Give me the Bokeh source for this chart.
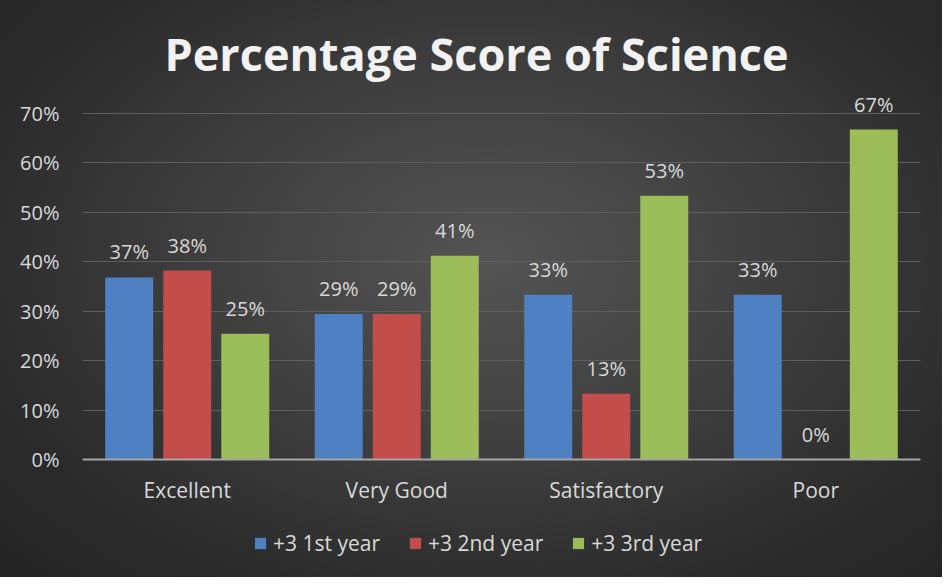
from bokeh.plotting import figure
from bokeh.layouts import column
from bokeh.models import (ColumnDataSource, FactorRange, Range1d, LabelSet, Legend, LegendItem,
                          NumeralTickFormatter, FixedTicker, InlineStyleSheet)
from bokeh.core.properties import value
from bokeh.transform import dodge
from bokeh.embed import file_html
from bokeh.resources import INLINE

categories = ["Excellent", "Very Good", "Satisfactory", "Poor"]
series_names = ["+3 1st year", "+3 2nd year", "+3 3rd year"]
first_year = [0.368, 0.294, 0.333, 0.333]
second_year = [0.382, 0.294, 0.133, 0.0]
third_year = [0.254, 0.412, 0.533, 0.667]
y_ticks = [0.0, 0.1, 0.2, 0.3, 0.4, 0.5, 0.6, 0.7]

colors = ["#4f81c2", "#c24d4b", "#9bbd5a"]
FONT = "Open Sans"
TXT = "#d9d9d9"

src = ColumnDataSource(dict(
    cat=categories,
    s1=first_year, s2=second_year, s3=third_year,
    l1=[f"{round(v*100)}%" for v in first_year],
    l2=[f"{round(v*100)}%" for v in second_year],
    l3=[f"{round(v*100)}%" for v in third_year],
))

p = figure(x_range=FactorRange(*categories, range_padding=0), y_range=(0, 0.75),
           width=942, height=519, output_backend="svg", toolbar_location=None,
           min_border_left=82, min_border_right=22, min_border_top=88, min_border_bottom=60)
p.background_fill_alpha = 0
p.border_fill_alpha = 0
p.outline_line_color = None

offsets = [-0.277, 0.0, 0.277]
keys = ["s1", "s2", "s3"]
lkeys = ["l1", "l2", "l3"]
for off, k, lk, c in zip(offsets, keys, lkeys, colors):
    p.vbar(x=dodge("cat", off, range=p.x_range), top=k, width=0.229, source=src,
           fill_color=c, line_color=None)
    ls = LabelSet(x=dodge("cat", off, range=p.x_range), y=k, text=lk, source=src,
                  text_align="center", text_baseline="alphabetic", y_offset=18,
                  text_font=value(FONT), text_font_size="20px", text_color=TXT)
    p.add_layout(ls)

# axes
p.yaxis.ticker = FixedTicker(ticks=y_ticks)
p.yaxis.formatter = NumeralTickFormatter(format="0%")
p.yaxis.axis_line_color = None
p.yaxis.major_tick_line_color = None
p.yaxis.minor_tick_line_color = None
p.yaxis.major_label_standoff = 17
p.yaxis.major_label_text_font = FONT
p.yaxis.major_label_text_font_size = "20px"
p.yaxis.major_label_text_color = TXT

p.xaxis.axis_line_color = "#a6a6a6"
p.xaxis.axis_line_width = 2
p.xaxis.major_tick_line_color = None
p.xaxis.minor_tick_line_color = None
p.xaxis.major_label_standoff = 10
p.xaxis.major_label_text_font = FONT
p.xaxis.major_label_text_font_size = "21px"
p.xaxis.major_label_text_color = TXT

p.xgrid.grid_line_color = None
p.ygrid.grid_line_color = "#5e5e5e"
p.ygrid.grid_line_width = 1

# title
p.title.text = "Percentage Score of Science"
p.title.align = "left"
p.title.offset = 82
p.title.text_font = FONT
p.title.text_font_style = "bold"
p.title.text_font_size = "45px"
p.title.text_color = "#f2f2f2"

# legend strip (bars drawn from the same data, outside the visible range)
lf = figure(x_range=FactorRange(*categories, range_padding=0), y_range=Range1d(2, 3),
            width=942, height=58, output_backend="svg", toolbar_location=None,
            min_border=0, x_axis_location=None, y_axis_location=None)
lf.background_fill_alpha = 0
lf.border_fill_alpha = 0
lf.outline_line_color = None
lf.grid.visible = False
items = []
for off, k, c, name in zip(offsets, keys, colors, series_names):
    r = lf.vbar(x=dodge("cat", off, range=lf.x_range), top=k, width=0.229, source=src,
                fill_color=c, line_color=None)
    items.append(LegendItem(label=name, renderers=[r]))
legend = Legend(items=items, orientation="horizontal", location=(171, 20),
                background_fill_alpha=0, border_line_color=None, padding=10, margin=0,
                label_text_font=FONT, label_text_font_size="21px", label_text_color=TXT,
                glyph_width=14, glyph_height=14, spacing=28, label_standoff=6)
lf.add_layout(legend, "center")

layout = column(p, lf, spacing=0, stylesheets=[InlineStyleSheet(css=":host { background: radial-gradient(ellipse 70% 75% at 52% 45%, #545454 0%, #3e3e3e 45%, #2b2b2b 80%, #252525 100%); }")])

open("out.html", "w").write(file_html(layout, INLINE))
